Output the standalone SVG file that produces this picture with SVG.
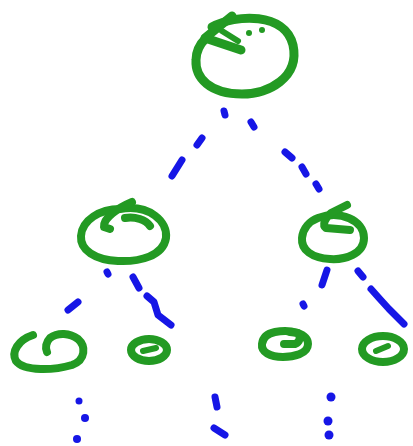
<svg xmlns="http://www.w3.org/2000/svg" width="413" height="446" viewBox="0 0 413 446">
<style>
.g{fill:none;stroke:#239a23;stroke-width:8;stroke-linecap:round;stroke-linejoin:round}
.gt{fill:none;stroke:#239a23;stroke-width:6;stroke-linecap:round;stroke-linejoin:round}
.b{fill:none;stroke:#1616e6;stroke-width:7;stroke-linecap:round;stroke-linejoin:round}
.d{fill:#1616e6}
</style>
<rect width="413" height="446" fill="#ffffff"/>
<g id="root">
<path class="g" style="stroke-width:9" d="M212,27 C236,14 285,12 293,45 C300,78 268,94 242,94 C210,94 195,78 196,60 C196,50 200,44 206,38"/>
<path class="g" style="stroke-width:9" d="M232,16 L205,38 L241,50"/>
<path class="gt" d="M222,31 L238,41"/>
<circle cx="249" cy="33" r="3" fill="#239a23"/>
<circle cx="262" cy="30" r="3" fill="#239a23"/>
</g>
<g id="left-child">
<path class="g" d="M120,209 C150,204 168,222 166,238 C163,256 140,262 118,261 C95,260 80,250 81,236 C82,220 100,209 120,209"/>
<path class="g" d="M132,202 C118,208 103,218 104,227 L110,229"/>
<path class="g" d="M125,218 C135,216 146,220 150,226"/>
</g>
<g id="right-child">
<path class="g" d="M318,218 C340,210 364,220 364,238 C364,254 345,260 330,259 C312,258 301,250 302,238 C303,228 310,221 318,218"/>
<path class="g" d="M347,205 L331,213 C325,218 322,225 326,228 L350,230"/>
</g>
<g id="leaf-1">
<path class="g" d="M33,335 C18,340 11,352 16,361 C24,372 55,370 72,365 C86,360 86,346 78,339 C70,333 58,332 50,338 C46,342 45,348 47,352"/>
</g>
<g id="leaf-2">
<ellipse class="g" cx="149" cy="350" rx="18" ry="11"/>
<path class="gt" d="M143,351 L156,348"/>
</g>
<g id="leaf-3">
<path class="g" d="M275,332 C290,329 308,333 308,344 C308,354 293,357 283,357 C270,357 261,352 262,344 C263,336 270,333 275,332"/>
<path class="g" d="M290,332 L298,333 C301,337 300,342 295,344 L284,344"/>
</g>
<g id="leaf-4">
<ellipse class="g" cx="383" cy="349" rx="21" ry="13"/>
<path class="gt" d="M376,351 L388,346"/>
</g>
<g id="connectors">
<path class="b" d="M224,111 L225,115 M202,138 L197,145 M182,160 L172,176 M251,122 L254,127 M285,152 L292,158 M302,167 L306,174 M316,184 L319,189"/>
<path class="b" d="M107,272 L108,274 M68,310 L78,302 M133,277 L139,288 M147,296 L154,302 L158,315 L171,325"/>
<path class="b" d="M327,270 L322,285 M303,304 L304,306 M358,271 L363,277 M371,289 L379,298 L389,309 L404,324"/>
<circle class="d" cx="79" cy="401" r="3.5"/>
<circle class="d" cx="85" cy="418" r="4"/>
<circle class="d" cx="77" cy="439" r="4"/>
<path class="b" d="M215,397 L217,407 M214,428 L225,435"/>
<circle class="d" cx="331" cy="397" r="4.5"/>
<circle class="d" cx="328" cy="421" r="4.5"/>
<circle class="d" cx="329" cy="435" r="4.5"/>
</g>
</svg>
